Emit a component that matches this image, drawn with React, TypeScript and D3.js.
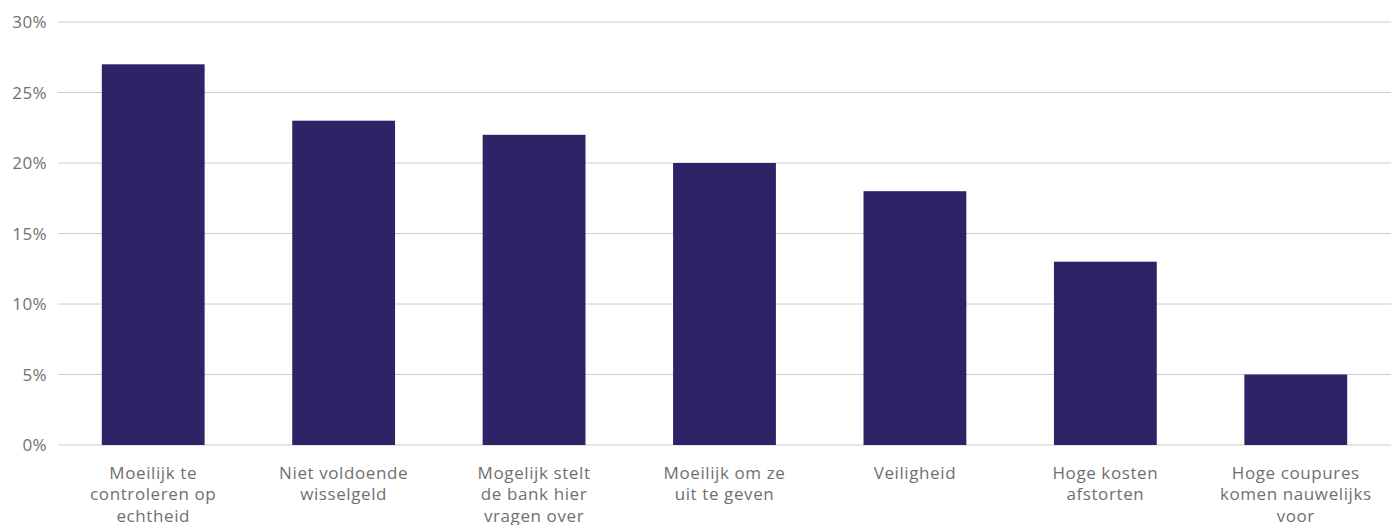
import React from "react";
import * as d3 from "d3";

const categories: string[][] = [
  ["Moeilijk te", "controleren op", "echtheid"],
  ["Niet voldoende", "wisselgeld"],
  ["Mogelijk stelt", "de bank hier", "vragen over"],
  ["Moeilijk om ze", "uit te geven"],
  ["Veiligheid"],
  ["Hoge kosten", "afstorten"],
  ["Hoge coupures", "komen nauwelijks", "voor"],
];
const values: number[] = [27, 23, 22, 20, 18, 13, 5];
const yTicks: number[] = [0, 5, 10, 15, 20, 25, 30];

const W = 1395;
const H = 525;
const left = 58;
const right = 1391;
const top = 22;
const bottom = 445;

export default function App() {
  const x = d3
    .scaleBand<number>()
    .domain(d3.range(categories.length))
    .range([left, right])
    .paddingInner(0.46)
    .paddingOuter(0.23);
  const y = d3.scaleLinear().domain([0, 30]).range([bottom, top]);
  const font = "'Open Sans', sans-serif";
  return (
    <svg
      width={W}
      height={H}
      style={{ position: "absolute", left: 0, top: 0 }}
    >
      {yTicks.map((t) => (
        <g key={t}>
          <line x1={left} x2={right} y1={y(t)} y2={y(t)} stroke="#cccccc" strokeWidth={1} />
          <text
            x={47}
            y={y(t)}
            dy="0.36em"
            textAnchor="end"
            fontFamily={font}
            fontSize={17}
            letterSpacing={0.4}
            fill="#707070"
          >
            {t}%
          </text>
        </g>
      ))}
      {values.map((v, i) => (
        <rect
          key={i}
          x={x(i)}
          y={y(v)}
          width={x.bandwidth()}
          height={y(0) - y(v)}
          fill="#2e2366"
        />
      ))}
      {categories.map((lines, i) => (
        <text
          key={i}
          x={(x(i) as number) + x.bandwidth() / 2}
          y={479}
          textAnchor="middle"
          fontFamily={font}
          fontSize={17}
          letterSpacing={0.6}
          fill="#707070"
        >
          {lines.map((l, j) => (
            <tspan key={j} x={(x(i) as number) + x.bandwidth() / 2} dy={j === 0 ? 0 : 21.3}>
              {l}
            </tspan>
          ))}
        </text>
      ))}
    </svg>
  );
}
